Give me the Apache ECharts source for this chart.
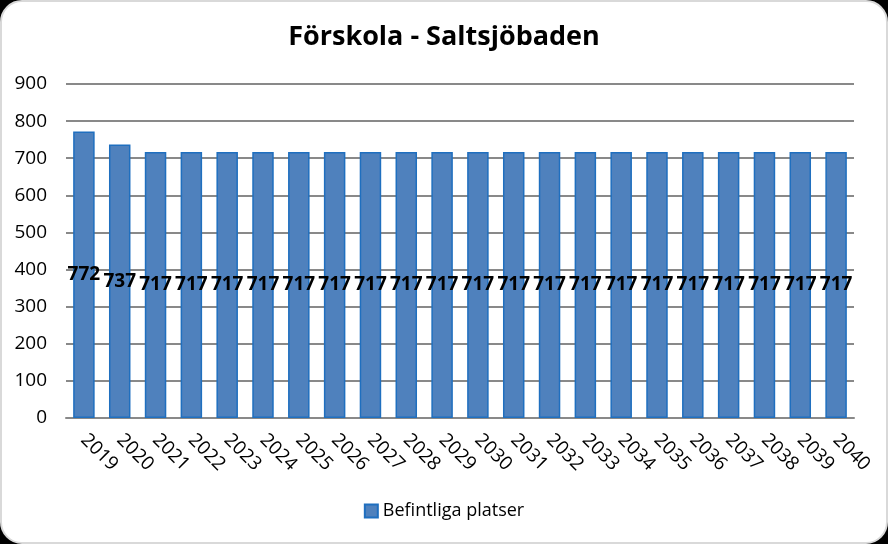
<!DOCTYPE html>
<html><head><meta charset="utf-8">
<script src="https://cdn.jsdelivr.net/npm/echarts@6/dist/echarts.min.js"></script>
<style>
html,body{margin:0;padding:0;background:#000;}
#wrap{position:absolute;left:0;top:0;width:884px;height:540px;background:#fff;border:2px solid #d9d9d9;border-radius:22px;overflow:hidden;}
#c{width:884px;height:540px;}
</style></head><body>
<div id="wrap"><div id="c"></div></div>
<script>
const categories = ['2019','2020','2021','2022','2023','2024','2025','2026','2027','2028','2029','2030','2031','2032','2033','2034','2035','2036','2037','2038','2039','2040'];
const befintligaPlatser = [772,737,717,717,717,717,717,717,717,717,717,717,717,717,717,717,717,717,717,717,717,717];
const yTicks = {min:0, max:900, interval:100};
const seriesName = 'Befintliga platser';
const titleText = 'Förskola - Saltsjöbaden';

const chart = echarts.init(document.getElementById('c'), null, {renderer:'canvas'});
const font = 'Open Sans, Lato, sans-serif';
chart.setOption({
  animation:false,
  title:{text:titleText,left:'center',top:17,textStyle:{fontFamily:font,fontSize:27,fontWeight:'bold',color:'#000'}},
  grid:{left:64,right:32,top:82,bottom:124,containLabel:false},
  legend:{bottom:17,left:'center',itemWidth:13,itemHeight:13,icon:'rect',itemGap:4,
    textStyle:{fontFamily:font,fontSize:18,color:'#000'},data:[seriesName]},
  xAxis:{type:'category',data:categories,
    axisLine:{lineStyle:{color:'#898989',width:2}},axisTick:{show:false},
    axisLabel:{rotate:-45,fontFamily:font,fontSize:19,color:'#000',margin:19,interval:0}},
  yAxis:{type:'value',min:yTicks.min,max:yTicks.max,interval:yTicks.interval,
    axisLine:{show:false},axisTick:{show:false},
    splitLine:{lineStyle:{color:'#898989',width:2}},
    axisLabel:{fontFamily:font,fontSize:19,color:'#000',margin:19}},
  series:[{name:seriesName,type:'bar',data:befintligaPlatser,barCategoryGap:'40%',
    itemStyle:{color:'#4f81bd',borderColor:'#1f6fbf',borderWidth:1.5},
    label:{show:true,position:'inside',fontFamily:font,fontSize:19,fontWeight:'bold',color:'#000'}}]
});
</script></body></html>
